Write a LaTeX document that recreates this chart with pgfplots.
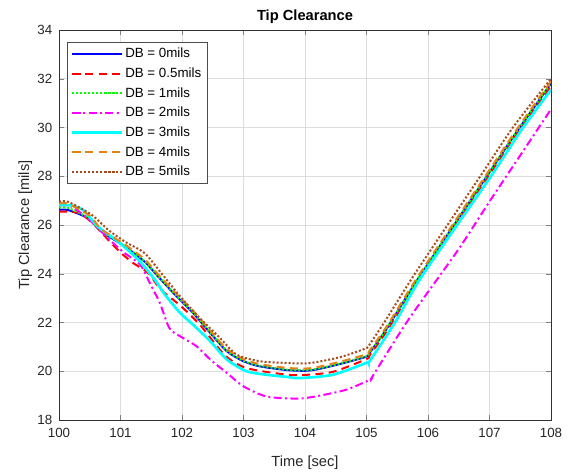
\documentclass[border=0pt]{standalone}
\usepackage{fontspec}
\setmainfont{Liberation Sans}
\usepackage{pgfplots}
\pgfplotsset{compat=1.18}
\definecolor{mOrange}{RGB}{230,130,20}
\definecolor{mBrown}{RGB}{165,75,30}
\begin{document}
\begin{tikzpicture}
\begin{axis}[
  scale only axis,
  width=369pt, height=292.5pt,
  xmin=100, xmax=108, ymin=18, ymax=34,
  xtick={100,101,...,108}, ytick={18,20,...,34},
  /pgf/number format/assume math mode=true,
  /pgf/number format/1000 sep={},
  tick label style={font=\fontsize{10}{12}\selectfont, color=black!85},
  xticklabel style={yshift=-2.5pt},
  yticklabel style={xshift=-1.5pt},
  tick align=inside,
  major tick length=4pt,
  xtick pos=both, ytick pos=both,
  grid=major,
  major grid style={draw=black!13, line width=0.5pt},
  axis line style={draw=black!80, line width=0.6pt},
  title={\textbf{Tip Clearance}},
  title style={font=\fontsize{11}{13}\selectfont, at={(axis description cs:0.5,1)}, anchor=south, yshift=-4.5pt},
  xlabel={Time [sec]},
  ylabel={Tip Clearance [mils]},
  label style={font=\fontsize{11}{13}\selectfont, color=black!85},
  xlabel style={at={(axis description cs:0.5,-0.08)}, anchor=north},
  ylabel style={at={(axis description cs:-0.045,0.5)}, anchor=south},
  legend cell align=left,
  legend style={at={(0.016,0.97)}, anchor=north west, draw=black!70, line width=0.6pt,
    font=\fontsize{10}{11}\selectfont, row sep=2pt, inner sep=2.5pt},
  legend image code/.code={\draw[#1] plot coordinates {(0cm,0cm) (1.3cm,0cm)};},
  every axis plot/.append style={line width=1.5pt, smooth, tension=0.45},
]
% DB = 0
\addplot[color={rgb,1:red,0;green,0;blue,1}] coordinates {
(100.0,26.62) (100.15,26.61) (100.47,26.28) (100.69,25.73) (101.07,25.12) (101.39,24.5)
(101.61,23.89) (101.86,23.21) (102.18,22.39) (102.46,21.57) (102.73,20.82) (103.0,20.41)
(103.27,20.2) (103.7,20.05) (104.0,20.02) (104.2,20.08) (104.57,20.3) (105.0,20.6)
(105.05,20.75) (105.33,21.75) (105.84,23.8) (106.93,27.9) (107.45,29.85) (108.0,31.8)};
\addlegendentry{DB = 0mils}
% DB = 0.5
\addplot[color=red, dash pattern=on 6pt off 4pt] coordinates {
(100.0,26.55) (100.2,26.54) (100.36,26.45) (100.58,26.0) (100.8,25.39) (101.01,24.85)
(101.2,24.45) (101.45,24.03) (101.66,23.34) (101.97,22.7) (102.29,21.91) (102.7,20.65)
(103.05,20.13) (103.7,19.86) (104.0,19.85) (104.46,19.98) (105.0,20.5) (105.05,20.65)
(105.33,21.65) (105.84,23.7) (106.93,27.8) (107.45,29.75) (108.0,31.7)};
\addlegendentry{DB = 0.5mils}
% DB = 1
\addplot[color={rgb,1:red,0;green,1;blue,0}, dash pattern=on 1.5pt off 1.5pt] coordinates {
(100.0,26.72) (100.15,26.7) (100.47,26.3) (100.69,25.75) (101.07,25.14) (101.39,24.52)
(101.61,23.91) (101.86,23.23) (102.18,22.41) (102.46,21.59) (102.73,20.84) (103.0,20.43)
(103.27,20.22) (103.7,20.07) (104.0,20.04) (104.2,20.1) (104.57,20.32) (105.0,20.62)
(105.05,20.77) (105.33,21.77) (105.84,23.82) (106.93,27.92) (107.45,29.87) (108.0,31.82)};
\addlegendentry{DB = 1mils}
% DB = 2
\addplot[color={rgb,1:red,1;green,0;blue,1}, dash pattern=on 6pt off 2.5pt on 1.5pt off 2.5pt] coordinates {
(100.0,26.8) (100.2,26.76) (100.5,26.2) (100.8,25.45) (101.04,24.9) (101.32,24.37)
(101.48,23.6) (101.64,22.8) (101.8,21.75) (102.02,21.36) (102.24,21.02) (102.46,20.48)
(102.73,19.93) (103.0,19.38) (103.38,18.96) (103.9,18.88) (104.24,19.0) (104.68,19.25)
(105.06,19.66) (105.1,19.8) (105.68,22.11) (106.49,24.98) (107.01,27.0) (108.0,30.75)};
\addlegendentry{DB = 2mils}
% DB = 3
\addplot[color={rgb,1:red,0;green,1;blue,1}, line width=2pt] coordinates {
(100.0,26.82) (100.2,26.8) (100.4,26.6) (100.63,25.94) (100.96,25.32) (101.29,24.57)
(101.56,23.75) (101.72,23.15) (101.97,22.39) (102.18,21.91) (102.46,21.23) (102.73,20.48)
(103.05,20.0) (103.4,19.85) (103.7,19.77) (103.92,19.72) (104.46,19.86) (105.0,20.35)
(105.06,20.45) (105.49,22.11) (105.9,23.9) (107.01,27.95) (107.52,29.9) (108.0,31.55)};
\addlegendentry{DB = 3mils}
% DB = 4
\addplot[color=mOrange, dash pattern=on 6pt off 4pt] coordinates {
(100.0,26.88) (100.15,26.87) (100.5,26.38) (100.69,25.82) (101.07,25.2) (101.39,24.6)
(101.61,23.98) (101.86,23.3) (102.18,22.48) (102.46,21.66) (102.73,20.91) (103.0,20.5)
(103.27,20.29) (103.7,20.14) (104.0,20.11) (104.2,20.17) (104.57,20.39) (105.0,20.7)
(105.05,20.85) (105.33,21.85) (105.84,23.9) (106.93,28.0) (107.45,29.95) (108.0,31.9)};
\addlegendentry{DB = 4mils}
% DB = 5
\addplot[color=mBrown, dash pattern=on 1.5pt off 1.5pt] coordinates {
(100.0,26.96) (100.15,26.95) (100.53,26.42) (100.8,25.8) (101.07,25.32) (101.39,24.85)
(101.64,24.1) (101.97,23.07) (102.29,22.18) (102.62,21.36) (102.89,20.68) (103.27,20.41)
(103.7,20.34) (104.0,20.32) (104.24,20.4) (104.6,20.6) (105.0,20.95) (105.05,21.1)
(105.3,22.05) (105.8,24.05) (106.85,28.0) (107.38,30.0) (108.0,32.0)};
\addlegendentry{DB = 5mils}
\end{axis}
\path ([xshift=-44.25pt,yshift=-37.5pt]current axis.south west) rectangle ([xshift=15.75pt,yshift=22.5pt]current axis.north east);
\end{tikzpicture}
\end{document}
